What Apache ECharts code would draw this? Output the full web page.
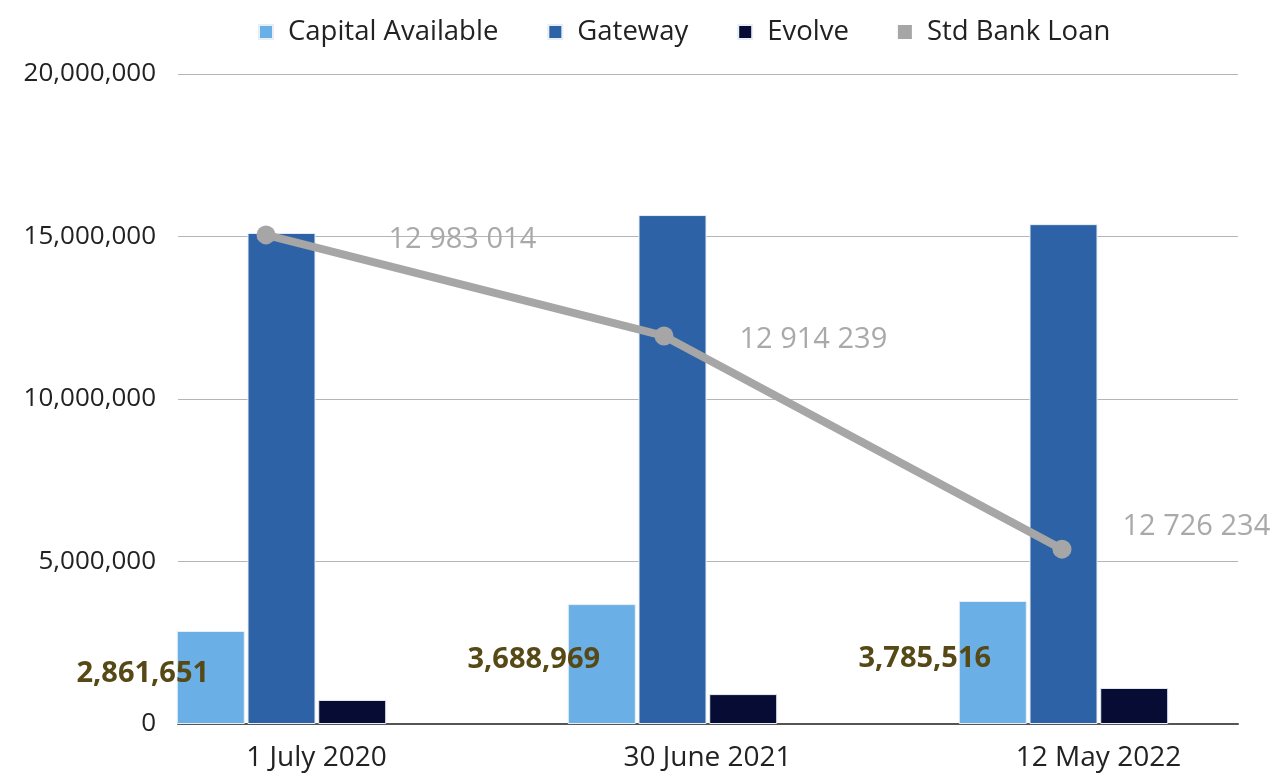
<!DOCTYPE html>
<html>
<head>
<meta charset="utf-8">
<script src="https://cdn.jsdelivr.net/npm/echarts@6/dist/echarts.min.js"></script>
<style>
  html, body { margin: 0; padding: 0; background: #fff; }
  #main { width: 1276px; height: 773px; }
</style>
</head>
<body>
<div id="main"></div>
<script>
// data
var categories = ['1 July 2020', '30 June 2021', '12 May 2022'];
var capitalAvailable = [2861651, 3688969, 3785516];
var gateway = [15110000, 15660000, 15380000];
var evolve = [740000, 920000, 1110000];
var stdBankLoan = [15050000, 11940000, 5380000];
var stdBankLoanLabels = ['12 983 014', '12 914 239', '12 726 234'];
var yTicks = [0, 5000000, 10000000, 15000000, 20000000];

var FONT = '"Open Sans", sans-serif';
var chart = echarts.init(document.getElementById('main'));

function fmt(v) {
  return String(v).replace(/\B(?=(\d{3})+(?!\d))/g, ',');
}

// label nudges for the line points (layout only)
var lineLabelOffsets = [[108, 5], [61, 4], [46, -22]];
var lineData = stdBankLoan.map(function (v, i) {
  return { value: v, label: { offset: lineLabelOffsets[i] } };
});

var yMax = yTicks[yTicks.length - 1];
var yStep = yTicks[1] - yTicks[0];

var option = {
  backgroundColor: '#fff',
  animation: false,
  color: ['#6aafe6', '#2e62a6', '#060c33', '#a6a6a6'],
  legend: {
    top: 13,
    left: 253,
    itemWidth: 14,
    itemHeight: 14,
    itemGap: 49,
    icon: 'rect',
    textStyle: { fontFamily: FONT, fontSize: 27.5, color: '#222', padding: [0, 0, 0, 10] },
    data: ['Capital Available', 'Gateway', 'Evolve', 'Std Bank Loan']
  },
  grid: [
    { left: 178, right: 38, top: 74, bottom: 49 },   // frame, gridlines, y labels
    { left: 86, width: 1173, top: 74, bottom: 49 },  // bars
    { left: 67, width: 1194, top: 74, bottom: 49 }   // line
  ],
  xAxis: [
    {
      gridIndex: 0, type: 'category', data: categories,
      axisLine: { lineStyle: { color: '#555', width: 2 } },
      axisTick: { show: false }, axisLabel: { show: false }
    },
    {
      gridIndex: 1, type: 'category', data: categories,
      axisLine: { show: false }, axisTick: { show: false },
      axisLabel: { fontFamily: FONT, fontSize: 28, color: '#222', margin: 20, padding: [0, 0, 0, 70] }
    },
    {
      gridIndex: 2, type: 'category', data: categories, show: false
    }
  ],
  yAxis: [
    {
      gridIndex: 0, type: 'value', min: 0, max: yMax, interval: yStep,
      axisLine: { show: false }, axisTick: { show: false },
      axisLabel: { fontFamily: FONT, fontSize: 26, color: '#222', margin: 22, padding: [5, 0, 0, 0], formatter: fmt },
      splitLine: { lineStyle: { color: '#b5b5b5', width: 1 } }
    },
    { gridIndex: 1, type: 'value', min: 0, max: yMax, show: false, splitLine: { show: false } },
    { gridIndex: 2, type: 'value', min: 0, max: yMax, show: false, splitLine: { show: false } }
  ],
  series: [
    {
      name: 'Capital Available', type: 'bar', xAxisIndex: 1, yAxisIndex: 1,
      data: capitalAvailable, barWidth: 68, barGap: '4%',
      itemStyle: { borderColor: '#e8eef6', borderWidth: 1 },
      label: {
        show: true, position: 'inside', offset: [-68, -4],
        fontFamily: FONT, fontSize: 29, fontWeight: 'bold', color: '#574915',
        formatter: function (p) { return fmt(p.value); }
      },
      z: 3
    },
    {
      name: 'Gateway', type: 'bar', xAxisIndex: 1, yAxisIndex: 1,
      data: gateway, barWidth: 68, barGap: '4%',
      itemStyle: { borderColor: '#e8eef6', borderWidth: 1 }
    },
    {
      name: 'Evolve', type: 'bar', xAxisIndex: 1, yAxisIndex: 1,
      data: evolve, barWidth: 68, barGap: '4%',
      itemStyle: { borderColor: '#e8eef6', borderWidth: 1 }
    },
    {
      name: 'Std Bank Loan', type: 'line', xAxisIndex: 2, yAxisIndex: 2,
      data: lineData,
      symbol: 'circle', symbolSize: 19,
      lineStyle: { width: 8, color: '#a6a6a6' },
      itemStyle: { color: '#a6a6a6' },
      label: {
        show: true, position: 'right',
        fontFamily: FONT, fontSize: 29, color: '#a9a9a9',
        formatter: function (p) { return stdBankLoanLabels[p.dataIndex]; }
      },
      z: 5
    }
  ]
};

chart.setOption(option);
</script>
</body>
</html>
